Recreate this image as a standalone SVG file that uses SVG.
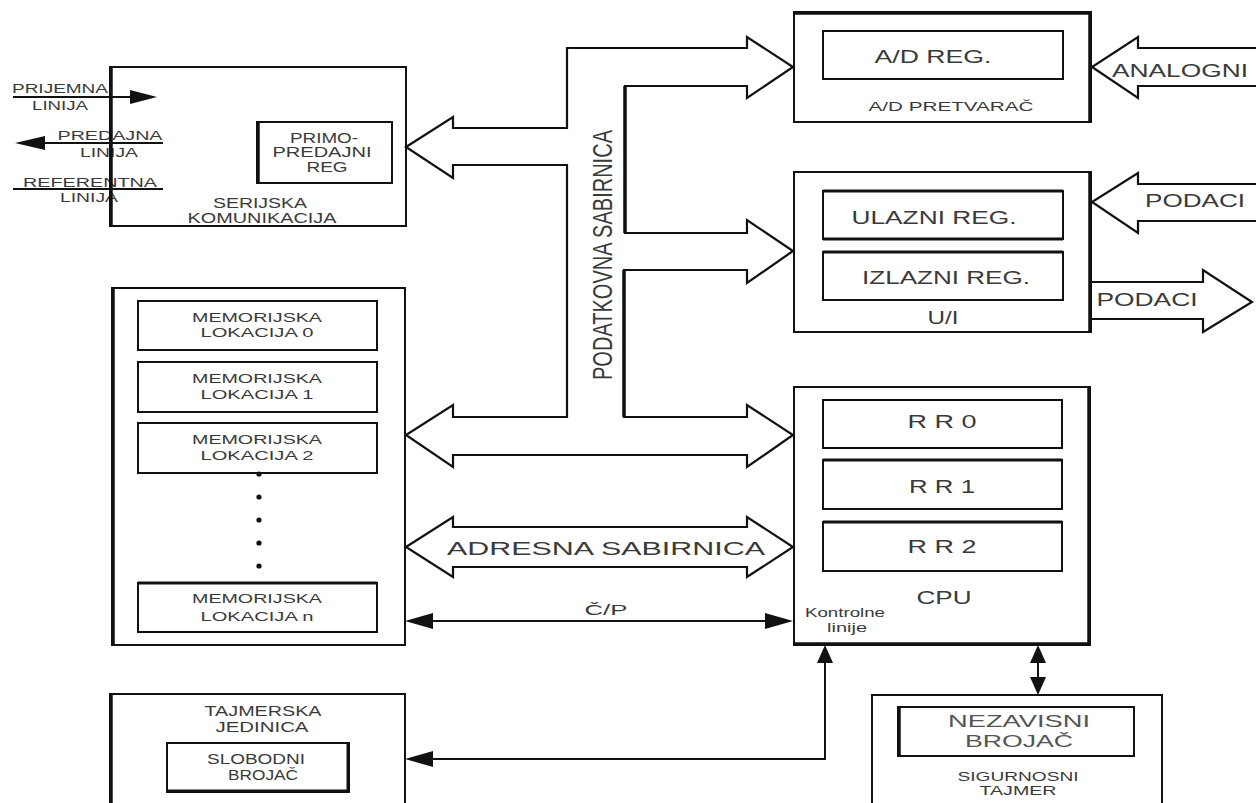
<svg xmlns="http://www.w3.org/2000/svg" width="1256" height="803" viewBox="0 0 1256 803">
<style>
.box{fill:none;stroke:#111;stroke-width:2}
.thick{stroke:#111;stroke-width:3.5;fill:none}
.ln{fill:none;stroke:#111;stroke-width:2}
.bus{fill:none;stroke:#111;stroke-width:2.2;stroke-linejoin:miter}
.ah{fill:#111;stroke:none}
text{font-family:"Liberation Sans",Arial,sans-serif;fill:#3a3a3a;text-anchor:middle}
.s11{font-size:12px}
.s12{font-size:13px}
.s13{font-size:14px}
.s17{font-size:18px}
.s18{font-size:18.5px}
</style>
<rect width="1256" height="803" fill="#fff"/>

<g id="connectors">
  <!-- data bus -->
  <polygon class="bus" points="406,147 453,117 453,128 567,128 567,48 747,48 747,37 793,67 747,98 747,86 625,86 625,233 747,233 747,220 793,251 747,283 747,270 624,270 624,417 747,417 747,405 793,435 747,467 747,455 453,455 453,467 406,435 453,405 453,417 567,417 567,165 453,165 453,178"/>
  <line class="thick" x1="625" y1="86" x2="625" y2="233"/>
  <line class="thick" x1="624" y1="270" x2="624" y2="417"/>
  <text transform="translate(612,255) rotate(-90)" style="font-size:27px" textLength="250" lengthAdjust="spacingAndGlyphs">PODATKOVNA SABIRNICA</text>
  <!-- address bus -->
  <polygon class="bus" points="406,547 453,517 453,527 747,527 747,517 793,547 747,577 747,567 453,567 453,577"/>
  <text x="606" y="555" style="font-size:19px" textLength="318" lengthAdjust="spacingAndGlyphs">ADRESNA SABIRNICA</text>
  <!-- external wide arrows -->
  <path class="bus" d="M1256,48 L1138,48 L1138,37 L1092,67 L1138,98 L1138,86 L1256,86"/>
  <text class="s18" x="1180" y="77" textLength="136" lengthAdjust="spacingAndGlyphs">ANALOGNI</text>
  <path class="bus" d="M1256,184 L1138,184 L1138,173 L1092,202 L1138,233 L1138,221 L1256,221"/>
  <text class="s17" x="1195" y="207" textLength="100" lengthAdjust="spacingAndGlyphs">PODACI</text>
  <path class="bus" d="M1091,282 L1203,282 L1203,270 L1252,302 L1203,332 L1203,319 L1091,319"/>
  <text class="s17" x="1147" y="306" textLength="101" lengthAdjust="spacingAndGlyphs">PODACI</text>
  <!-- serial lines -->
  <line class="ln" x1="13" y1="97" x2="133" y2="97"/>
  <polygon class="ah" points="157,97 130,90 130,104"/>
  <line class="ln" x1="42" y1="143" x2="163" y2="143"/>
  <polygon class="ah" points="15,143 45,136 45,150"/>
  <line class="ln" x1="13" y1="189" x2="163" y2="189"/>
  <text class="s11" x="60" y="93" textLength="96" lengthAdjust="spacingAndGlyphs">PRIJEMNA</text>
  <text class="s11" x="60" y="110" textLength="56" lengthAdjust="spacingAndGlyphs">LINIJA</text>
  <text class="s11" x="110" y="140" textLength="105" lengthAdjust="spacingAndGlyphs">PREDAJNA</text>
  <text class="s11" x="109" y="157" textLength="58" lengthAdjust="spacingAndGlyphs">LINIJA</text>
  <text class="s11" x="90" y="187" textLength="134" lengthAdjust="spacingAndGlyphs">REFERENTNA</text>
  <text class="s11" x="89" y="202" textLength="58" lengthAdjust="spacingAndGlyphs">LINIJA</text>
  <!-- C/P -->
  <line class="ln" x1="430" y1="621" x2="768" y2="621"/>
  <polygon class="ah" points="405,621 433,613 433,629"/>
  <polygon class="ah" points="793,621 765,613 765,629"/>
  <text x="606" y="615" style="font-size:15px" textLength="43" lengthAdjust="spacingAndGlyphs">Č/P</text>
  <!-- control lines to timer -->
  <path class="ln" d="M825,660 L825,759 L430,759"/>
  <polygon class="ah" points="825,645 817,663 833,663"/>
  <polygon class="ah" points="405,759 433,751 433,767"/>
  <!-- CPU - watchdog -->
  <line class="ln" x1="1038" y1="660" x2="1038" y2="680"/>
  <polygon class="ah" points="1038,645 1030,663 1046,663"/>
  <polygon class="ah" points="1038,695 1030,677 1046,677"/>
</g>

<g id="serijska">
  <rect class="box" x="110" y="67" width="296" height="159"/>
  <line class="thick" x1="111" y1="67" x2="111" y2="226"/>
  <rect class="box" x="257" y="122" width="135" height="61"/>
  <line class="thick" x1="258" y1="122" x2="258" y2="183"/>
  <text class="s13" x="324" y="143" textLength="68" lengthAdjust="spacingAndGlyphs">PRIMO-</text>
  <text class="s13" x="322" y="157" textLength="99" lengthAdjust="spacingAndGlyphs">PREDAJNI</text>
  <text class="s13" x="327" y="172" textLength="41" lengthAdjust="spacingAndGlyphs">REG</text>
  <text class="s13" x="260" y="208" textLength="94" lengthAdjust="spacingAndGlyphs">SERIJSKA</text>
  <text class="s13" x="262" y="223" textLength="149" lengthAdjust="spacingAndGlyphs">KOMUNIKACIJA</text>
</g>

<g id="memorija">
  <rect class="box" x="112" y="288" width="293" height="357"/>
  <line class="thick" x1="113" y1="288" x2="113" y2="645"/>
  <rect class="box" x="138" y="301" width="239" height="49"/>
  <text class="s12" x="257" y="322" textLength="130" lengthAdjust="spacingAndGlyphs">MEMORIJSKA</text>
  <text class="s12" x="257" y="337" textLength="113" lengthAdjust="spacingAndGlyphs">LOKACIJA 0</text>
  <rect class="box" x="138" y="362" width="239" height="50"/>
  <text class="s12" x="257" y="383" textLength="130" lengthAdjust="spacingAndGlyphs">MEMORIJSKA</text>
  <text class="s12" x="257" y="399" textLength="113" lengthAdjust="spacingAndGlyphs">LOKACIJA 1</text>
  <rect class="box" x="138" y="423" width="239" height="50"/>
  <text class="s12" x="257" y="444" textLength="130" lengthAdjust="spacingAndGlyphs">MEMORIJSKA</text>
  <text class="s12" x="257" y="460" textLength="113" lengthAdjust="spacingAndGlyphs">LOKACIJA 2</text>
  <circle class="ah" cx="259" cy="474" r="2.6"/>
  <circle class="ah" cx="259" cy="497" r="2.6"/>
  <circle class="ah" cx="259" cy="520" r="2.6"/>
  <circle class="ah" cx="259" cy="543" r="2.6"/>
  <circle class="ah" cx="259" cy="566" r="2.6"/>
  <rect class="box" x="138" y="583" width="239" height="49"/>
  <line class="thick" x1="138" y1="583" x2="377" y2="583" style="stroke-width:3"/>
  <text class="s12" x="257" y="603" textLength="130" lengthAdjust="spacingAndGlyphs">MEMORIJSKA</text>
  <text class="s12" x="257" y="621" textLength="113" lengthAdjust="spacingAndGlyphs">LOKACIJA n</text>
</g>

<g id="ad">
  <rect class="box" x="794" y="12" width="297" height="110"/>
  <line class="thick" x1="1090" y1="12" x2="1090" y2="122"/>
  <line class="thick" x1="794" y1="13" x2="1091" y2="13"/>
  <rect class="box" x="823" y="31" width="240" height="48"/>
  <text class="s18" x="933" y="63" textLength="117" lengthAdjust="spacingAndGlyphs">A/D REG.</text>
  <text class="s12" x="951" y="111" textLength="165" lengthAdjust="spacingAndGlyphs">A/D PRETVARAČ</text>
</g>

<g id="ui">
  <rect class="box" x="794" y="172" width="297" height="160"/>
  <line class="thick" x1="1090" y1="172" x2="1090" y2="332"/>
  <rect class="box" x="823" y="191" width="240" height="48"/>
  <line class="thick" x1="823" y1="191" x2="1063" y2="191" style="stroke-width:3"/>
  <line class="thick" x1="823" y1="239" x2="1063" y2="239" style="stroke-width:3"/>
  <text class="s18" x="934" y="224" textLength="165" lengthAdjust="spacingAndGlyphs">ULAZNI REG.</text>
  <rect class="box" x="823" y="252" width="240" height="48"/>
  <line class="thick" x1="823" y1="252" x2="1063" y2="252" style="stroke-width:3"/>
  <text class="s18" x="946" y="284" textLength="168" lengthAdjust="spacingAndGlyphs">IZLAZNI REG.</text>
  <text class="s17" x="943" y="324" textLength="31" lengthAdjust="spacingAndGlyphs">U/I</text>
</g>

<g id="cpu">
  <rect class="box" x="794" y="387" width="296" height="258"/>
  <line class="thick" x1="1089" y1="387" x2="1089" y2="645"/>
  <line class="thick" x1="794" y1="644" x2="1090" y2="644"/>
  <rect class="box" x="823" y="400" width="239" height="48"/>
  <text class="s17" x="942" y="428" textLength="69" lengthAdjust="spacingAndGlyphs">R R 0</text>
  <rect class="box" x="823" y="460" width="239" height="49"/>
  <line class="thick" x1="823" y1="460" x2="1062" y2="460" style="stroke-width:3"/>
  <text class="s17" x="942" y="493" textLength="66" lengthAdjust="spacingAndGlyphs">R R 1</text>
  <rect class="box" x="823" y="522" width="239" height="49"/>
  <line class="thick" x1="823" y1="522" x2="1062" y2="522" style="stroke-width:3"/>
  <text class="s17" x="942" y="553" textLength="69" lengthAdjust="spacingAndGlyphs">R R 2</text>
  <text class="s18" x="944" y="604" textLength="55" lengthAdjust="spacingAndGlyphs">CPU</text>
  <text class="s11" x="845" y="617" textLength="80" lengthAdjust="spacingAndGlyphs">Kontrolne</text>
  <text class="s11" x="847" y="632" textLength="40" lengthAdjust="spacingAndGlyphs">linije</text>
</g>

<g id="tajmerska">
  <path class="box" d="M110,806 L110,694 L405,694 L405,806"/>
  <line class="thick" x1="111" y1="694" x2="111" y2="806"/>
  <rect class="box" x="167" y="743" width="182" height="49"/>
  <line class="thick" x1="348" y1="743" x2="348" y2="792" style="stroke-width:3"/>
  <line class="thick" x1="167" y1="791" x2="349" y2="791" style="stroke-width:3"/>
  <text class="s13" x="263" y="716" textLength="117" lengthAdjust="spacingAndGlyphs">TAJMERSKA</text>
  <text class="s13" x="262" y="732" textLength="93" lengthAdjust="spacingAndGlyphs">JEDINICA</text>
  <text class="s13" x="256" y="764" textLength="98" lengthAdjust="spacingAndGlyphs">SLOBODNI</text>
  <text class="s13" x="263" y="780" textLength="70" lengthAdjust="spacingAndGlyphs">BROJAČ</text>
</g>

<g id="sigurnosni">
  <path class="box" d="M872,806 L872,695 L1162,695 L1162,806"/>
  <rect class="box" x="898" y="707" width="236" height="49"/>
  <line class="thick" x1="899" y1="707" x2="899" y2="756"/>
  <text x="1019" y="727" style="font-size:17px;fill:#555" textLength="142" lengthAdjust="spacingAndGlyphs">NEZAVISNI</text>
  <text x="1019" y="747" style="font-size:17px;fill:#555" textLength="108" lengthAdjust="spacingAndGlyphs">BROJAČ</text>
  <text class="s12" x="1018" y="781" textLength="121" lengthAdjust="spacingAndGlyphs">SIGURNOSNI</text>
  <text class="s12" x="1018" y="795" textLength="77" lengthAdjust="spacingAndGlyphs">TAJMER</text>
</g>
</svg>
